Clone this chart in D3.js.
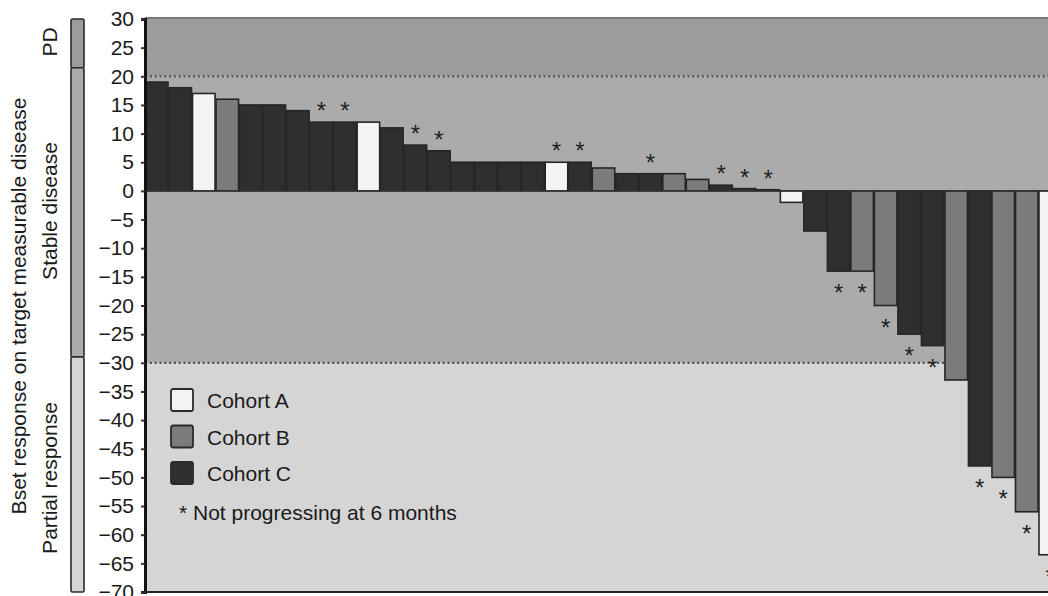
<!DOCTYPE html>
<html>
<head>
<meta charset="utf-8">
<script src="https://cdn.jsdelivr.net/npm/d3@7"></script>
<style>
  body { margin: 0; background: #fff; }
  svg { display: block; font-family: "Liberation Sans", Arial, sans-serif; }
</style>
</head>
<body>
<div class="chart"></div>
<script>
// Best response per patient, sorted as in the waterfall plot
const responses = [19, 18, 17, 16, 15, 15, 14, 12, 12, 12, 11, 8, 7, 5, 5, 5, 5, 5, 5, 4,
  3, 3, 3, 2, 1, 0.4, 0.2, -2, -7, -14, -14, -20, -25, -27, -33, -48, -50, -56, -63.5];
const cohorts = ["C", "C", "A", "B", "C", "C", "C", "C", "C", "A", "C", "C", "C", "C", "C", "C", "C", "A", "C", "B",
  "C", "C", "B", "B", "C", "C", "C", "A", "C", "C", "B", "B", "C", "C", "B", "C", "B", "B", "A"];
const notProgressing = [0, 0, 0, 0, 0, 0, 0, 1, 1, 0, 0, 1, 1, 0, 0, 0, 0, 1, 1, 0,
  0, 1, 0, 0, 1, 1, 1, 0, 0, 1, 1, 1, 1, 1, 0, 1, 1, 1, 1];
const yTicks = d3.range(-70, 31, 5);
const legendItems = ["Cohort A", "Cohort B", "Cohort C"];
const zones = [
  { name: "PD", from: 20, to: 30 },
  { name: "Stable disease", from: -30, to: 20 },
  { name: "Partial response", from: -70, to: -30 }
];

const W = 1048, H = 596;
const margin = { top: 19, left: 145, bottom: 4 };
const plotRight = 1062; // the plot runs past the picture edge
const FS = 21;

const fill = { A: "#f4f4f4", B: "#7b7b7b", C: "#2f2f2f" };

const svg = d3.select(".chart").append("svg")
  .attr("width", W).attr("height", H);

const y = d3.scaleLinear().domain([-70, 30]).range([H - margin.bottom, margin.top]);
const x = d3.scaleBand().domain(d3.range(responses.length))
  .range([margin.left, plotRight]).padding(0);

// Background bands
const bandFill = { "PD": "#9c9c9c", "Stable disease": "#ababab", "Partial response": "#d5d5d5" };
svg.append("g").selectAll("rect").data(zones).enter().append("rect")
  .attr("x", margin.left).attr("width", plotRight - margin.left)
  .attr("y", d => y(d.to)).attr("height", d => y(d.from) - y(d.to))
  .attr("fill", d => bandFill[d.name]);

// top frame
svg.append("line")
  .attr("x1", margin.left).attr("x2", plotRight)
  .attr("y1", y(30) - 1).attr("y2", y(30) - 1)
  .attr("stroke", "#777").attr("stroke-width", 2);

// Threshold dotted lines
svg.append("g").selectAll("line").data([20, -30]).enter().append("line")
  .attr("x1", margin.left).attr("x2", plotRight)
  .attr("y1", d => y(d)).attr("y2", d => y(d))
  .attr("stroke", "#555").attr("stroke-width", 2.2)
  .attr("stroke-dasharray", "2.2,2.6");

// Bars
svg.append("g").selectAll("rect").data(responses).enter().append("rect")
  .attr("x", (d, i) => x(i) + 0.5)
  .attr("width", x.bandwidth() - 1)
  .attr("y", d => y(Math.max(0, d)))
  .attr("height", d => Math.abs(y(d) - y(0)))
  .attr("fill", (d, i) => fill[cohorts[i]])
  .attr("stroke", "#262626").attr("stroke-width", 1.6);

// zero line
svg.append("line")
  .attr("x1", margin.left).attr("x2", plotRight)
  .attr("y1", y(0)).attr("y2", y(0))
  .attr("stroke", "#333").attr("stroke-width", 1.2);

// Stars for "not progressing"
svg.append("g").selectAll("text")
  .data(responses.map((d, i) => ({ d, i })).filter(o => notProgressing[o.i]))
  .enter().append("text")
  .attr("x", o => x(o.i) + x.bandwidth() / 2)
  .attr("y", o => o.d >= 0 ? y(o.d) - 17 + 14 : y(o.d) + 16 + 14)
  .attr("text-anchor", "middle")
  .attr("font-size", 24)
  .attr("fill", "#222")
  .text("*");

// Y axis
const yAxis = d3.axisLeft(y).tickValues(yTicks).tickSize(4).tickPadding(7)
  .tickFormat(d => d < 0 ? "\u2212" + Math.abs(d) : d);
const yAxisG = svg.append("g")
  .attr("transform", `translate(${margin.left},0)`)
  .call(yAxis);
yAxisG.select(".domain").attr("stroke", "#111").attr("stroke-width", 3);
yAxisG.selectAll(".tick line").attr("stroke", "#333").attr("stroke-width", 2);
yAxisG.selectAll(".tick text")
  .attr("font-size", FS).attr("fill", "#1a1a1a")
  .attr("font-family", "Liberation Sans, Arial, sans-serif");

// bottom frame
svg.append("line")
  .attr("x1", margin.left).attr("x2", plotRight)
  .attr("y1", y(-70)).attr("y2", y(-70))
  .attr("stroke", "#222").attr("stroke-width", 2);

// Response zone bracket on the left
const bracketX = 71, bracketW = 13;
const bracketCuts = [30, 21.5, -29, -70];
const bracketFill = ["#9c9c9c", "#ababab", "#d5d5d5"];
svg.append("g").selectAll("rect").data(bracketFill).enter().append("rect")
  .attr("x", bracketX).attr("width", bracketW)
  .attr("y", (d, i) => y(bracketCuts[i]))
  .attr("height", (d, i) => y(bracketCuts[i + 1]) - y(bracketCuts[i]))
  .attr("rx", 1.5)
  .attr("fill", d => d)
  .attr("stroke", "#2a2a2a").attr("stroke-width", 1.6);

const zoneLabels = [
  { text: "PD", cy: 42 },
  { text: "Stable disease", cy: 211 },
  { text: "Partial response", cy: 478 }
];
svg.append("g").selectAll("text").data(zoneLabels).enter().append("text")
  .attr("transform", d => `translate(57,${d.cy}) rotate(-90)`)
  .attr("text-anchor", "middle")
  .attr("font-size", FS).attr("fill", "#1a1a1a")
  .text(d => d.text);

svg.append("text")
  .attr("transform", "translate(26,306) rotate(-90)")
  .attr("text-anchor", "middle")
  .attr("font-size", FS).attr("fill", "#1a1a1a")
  .text("Bset response on target measurable disease");

// Legend
const legend = svg.append("g").attr("transform", "translate(171,389)");
const li = legend.selectAll("g").data(legendItems).enter().append("g")
  .attr("transform", (d, i) => `translate(0,${i * 36.5})`);
li.append("rect")
  .attr("width", 22).attr("height", 22).attr("rx", 2)
  .attr("fill", (d, i) => fill["ABC"[i]])
  .attr("stroke", "#2a2a2a").attr("stroke-width", 1.8);
li.append("text")
  .attr("x", 36).attr("y", 19)
  .attr("font-size", FS).attr("fill", "#1a1a1a")
  .text(d => d);
legend.append("text")
  .attr("x", 8).attr("y", 131)
  .attr("font-size", FS).attr("fill", "#1a1a1a")
  .text("* Not progressing at 6 months");
</script>
</body>
</html>
